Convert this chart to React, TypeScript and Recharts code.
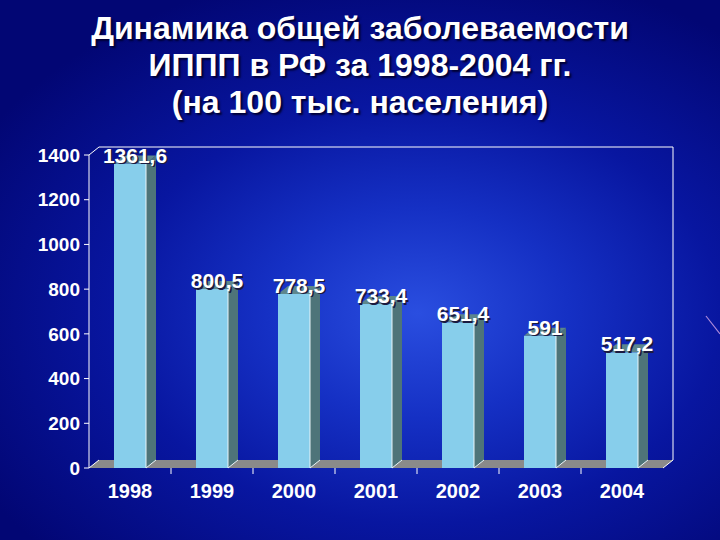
import React from 'react';
import { BarChart, Bar, XAxis, YAxis, LabelList, Customized } from 'recharts';

const years = ['1998', '1999', '2000', '2001', '2002', '2003', '2004'];
const incidence = [1361.6, 800.5, 778.5, 733.4, 651.4, 591, 517.2];
const yTicks = [0, 200, 400, 600, 800, 1000, 1200, 1400];
const titleLines = [
    'Динамика общей заболеваемости',
    'ИППП в РФ за 1998-2004 гг.',
    '(на 100 тыс. населения)',
];

const data = years.map((year, i) => ({ year, value: incidence[i] }));

const W = 720;
const H = 540;
const xAxisHeight = 30;
const margin = { top: 155, right: 57, bottom: 42, left: 0 };
const yAxisWidth = 89;
const depthX = 10;
const depthY = 8;
const font = '"Liberation Sans", Arial, sans-serif';

// 3D bar: front face + side face + top face
const Bar3D = (props: any) => {
    const { x, y, width, height } = props;
    if (!height || height <= 0) return null;
    const front = '#87ceeb';
    const side = '#4e7479';
    const top = '#5d868c';
    return (
        <g>
            <polygon
                points={`${x + width},${y} ${x + width + depthX},${y - depthY} ${x + width + depthX},${y + height - depthY} ${x + width},${y + height}`}
                fill={side}
            />
            <polygon
                points={`${x},${y} ${x + depthX},${y - depthY} ${x + width + depthX},${y - depthY} ${x + width},${y}`}
                fill={top}
            />
            <rect x={x} y={y} width={width} height={height} fill={front} />
            <line x1={x + width} y1={y} x2={x + width} y2={y + height} stroke="#e8f4f8" strokeWidth={1} />
            <line x1={x + width} y1={y + height} x2={x + width + depthX} y2={y + height - depthY} stroke="#e8f4f8" strokeWidth={1} />
        </g>
    );
};

// back wall, floor and category-boundary ticks of the 3D frame
const Frame = () => {
    const left = yAxisWidth;
    const right = W - margin.right;
    const top = margin.top;
    const bottom = H - margin.bottom - xAxisHeight;
    const step = (right - left) / years.length;
    return (
        <g>
            <polygon
                points={`${left},${bottom} ${left + depthX},${bottom - depthY} ${right + depthX},${bottom - depthY} ${right},${bottom}`}
                fill="#8a8a8a"
            />
            <polyline
                points={`${left},${top} ${left + depthX},${top - depthY} ${right + depthX},${top - depthY} ${right + depthX},${bottom - depthY} ${right},${bottom}`}
                fill="none"
                stroke="#ffffff"
                strokeWidth={1}
            />
            <line x1={left} y1={bottom} x2={left + depthX} y2={bottom - depthY} stroke="#ffffff" strokeWidth={1} />
            {years.slice(1).map((yr, i) => (
                <line
                    key={yr}
                    x1={left + step * (i + 1)}
                    y1={bottom}
                    x2={left + step * (i + 1)}
                    y2={bottom + 6}
                    stroke="#ffffff"
                    strokeWidth={1}
                />
            ))}
        </g>
    );
};

const ValueLabel = (props: any) => {
    const { x, y, width, value } = props;
    const cx = x + (width + depthX) / 2;
    const cy = y - 1;
    const text = String(value).replace('.', ',');
    return (
        <g fontFamily={font} fontSize={21} fontWeight="bold" textAnchor="middle">
            <text x={cx + 1.5} y={cy + 1.5} fill="#1a1a40">{text}</text>
            <text x={cx} y={cy} fill="#ffffff">{text}</text>
        </g>
    );
};

const App: React.FC = () => {
    return (
        <div
            style={{
                position: 'absolute',
                left: 0,
                top: 0,
                width: W,
                height: H,
                overflow: 'hidden',
                background:
                    'radial-gradient(ellipse 70% 65% at 58% 58%, #2a4ee0 0%, #1530c4 30%, #0816a0 60%, #020674 100%)',
                fontFamily: font,
            }}
        >
            <div
                style={{
                    position: 'absolute',
                    top: 10,
                    left: 0,
                    width: W,
                    textAlign: 'center',
                    color: '#ffffff',
                    fontWeight: 'bold',
                    fontSize: 32,
                    lineHeight: '37px',
                    textShadow: '2px 2px 2px #000033',
                }}
            >
                {titleLines.map((t) => (
                    <div key={t}>{t}</div>
                ))}
            </div>
            <svg style={{ position: 'absolute', left: 0, top: 0 }} width={W} height={H}>
                <line x1={706} y1={316} x2={720} y2={334} stroke="#d8a8e8" strokeWidth={1.2} opacity={0.8} />
            </svg>
            <div style={{ position: 'absolute', left: 0, top: 0 }}>
                <BarChart width={W} height={H} data={data} margin={margin} barSize={32}>
                    <Customized component={Frame} />
                    <XAxis
                        dataKey="year"
                        height={xAxisHeight}
                        axisLine={false}
                        tickLine={false}
                        tick={{ fill: '#ffffff', fontSize: 20, fontWeight: 'bold', fontFamily: font }}
                        tickMargin={10}
                    />
                    <YAxis
                        width={yAxisWidth}
                        domain={[0, 1400]}
                        ticks={yTicks}
                        axisLine={{ stroke: '#ffffff' }}
                        tickLine={{ stroke: '#ffffff' }}
                        tickSize={5}
                        tickMargin={4}
                        tick={{ fill: '#ffffff', fontSize: 19, fontWeight: 'bold', fontFamily: font }}
                    />
                    <Bar dataKey="value" shape={<Bar3D />} isAnimationActive={false}>
                        <LabelList dataKey="value" content={<ValueLabel />} />
                    </Bar>
                </BarChart>
            </div>
        </div>
    );
};

export default App;
